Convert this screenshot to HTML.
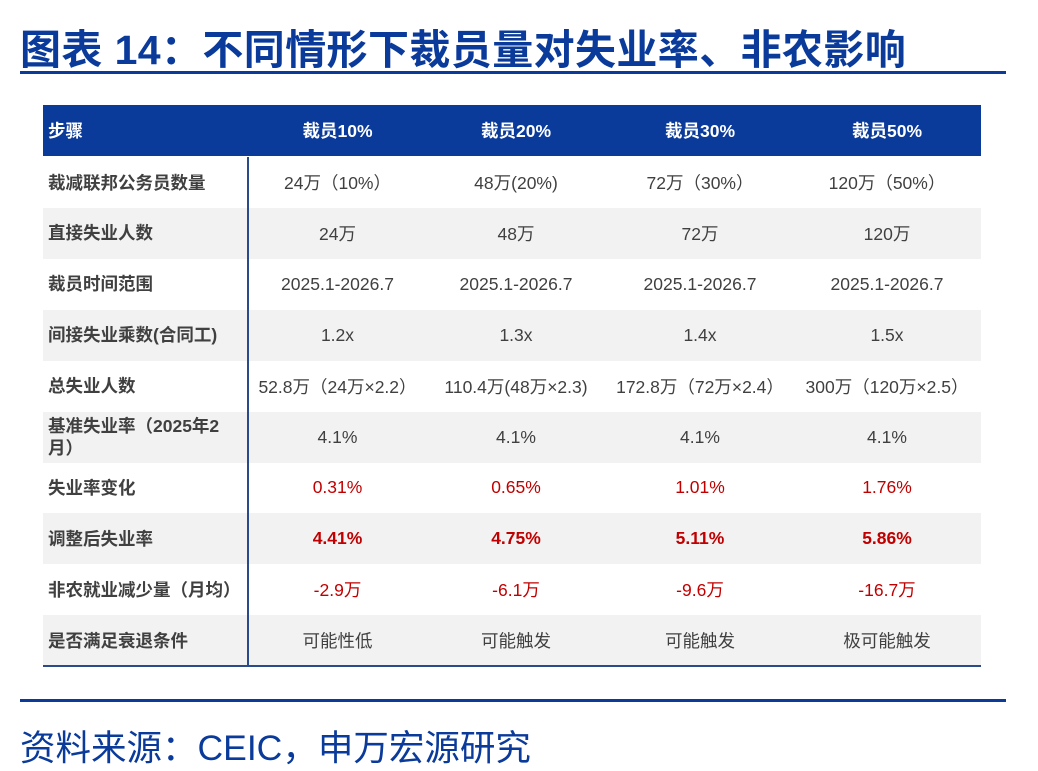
<!DOCTYPE html>
<html><head><meta charset="utf-8">
<style>
body{margin:0;width:1038px;height:771px;background:#fff;position:relative;overflow:hidden;font-family:"Liberation Sans","Noto Sans CJK SC",sans-serif;}
.abs{position:absolute;}
.title{left:20px;top:16px;font-size:41px;font-weight:bold;color:#0a3a9a;white-space:nowrap;letter-spacing:0.4px;}
.rule{left:20px;width:986px;height:3px;background:#0a3a9a;}
.row{position:absolute;left:43px;width:938px;height:51px;}
.cell{position:absolute;top:0;height:100%;display:flex;align-items:center;font-size:17.5px;color:#404040;}
.c0{left:5px;width:185px;font-weight:bold;color:#404040;line-height:22px;}
.cv{justify-content:center;white-space:nowrap;}
.hdr{background:#0a3a9a;}
.hdr .cell{color:#fff;font-weight:bold;}
.g{background:#f2f2f2;}
.red{color:#c00000;}
.b{font-weight:bold;}
.src{left:20px;top:720px;font-size:35.5px;color:#0a3a9a;white-space:nowrap;}
</style></head><body>
<div class="abs title">图表 14：不同情形下裁员量对失业率、非农影响</div>
<div class="abs rule" style="top:71px"></div>
<div id="tbl"></div>
<div class="abs" style="left:247px;top:157px;width:2px;height:509px;background:#2a4a8a"></div>
<div class="abs" style="left:43px;top:665px;width:938px;height:2px;background:#2a4a8a"></div>
<div class="abs rule" style="top:699px;height:3px"></div>
<div class="abs src">资料来源：CEIC，申万宏源研究</div>
<script>
const headers=["步骤","裁员10%","裁员20%","裁员30%","裁员50%"];
const rowLabels=["裁减联邦公务员数量","直接失业人数","裁员时间范围","间接失业乘数(合同工)","总失业人数","基准失业率（2025年2月）","失业率变化","调整后失业率","非农就业减少量（月均）","是否满足衰退条件"];
const rowValues=[
["24万（10%）","48万(20%)","72万（30%）","120万（50%）"],
["24万","48万","72万","120万"],
["2025.1-2026.7","2025.1-2026.7","2025.1-2026.7","2025.1-2026.7"],
["1.2x","1.3x","1.4x","1.5x"],
["52.8万（24万×2.2）","110.4万(48万×2.3)","172.8万（72万×2.4）","300万（120万×2.5）"],
["4.1%","4.1%","4.1%","4.1%"],
["0.31%","0.65%","1.01%","1.76%"],
["4.41%","4.75%","5.11%","5.86%"],
["-2.9万","-6.1万","-9.6万","-16.7万"],
["可能性低","可能触发","可能触发","极可能触发"]];
const rowStyle=["","","","","","","red","red b","red",""];
const colX=[207,383,567,752];const colW=[175,180,180,184];
const tbl=document.getElementById('tbl');
function mkRow(top,cls,label,vals,vcls){
  const r=document.createElement('div');r.className='row '+cls;r.style.top=top+'px';
  
  
  const c=document.createElement('div');c.className='cell c0';c.textContent=label;
  
  
  r.appendChild(c);
  vals.forEach((v,i)=>{const d=document.createElement('div');d.className='cell cv '+vcls;d.style.left=colX[i]+'px';d.style.width=colW[i]+'px';d.textContent=v;
    
    
    r.appendChild(d);});
  tbl.appendChild(r);
}
mkRow(105,'hdr',headers[0],headers.slice(1),'');
rowLabels.forEach((l,i)=>mkRow(157+i*50.9,i%2?'g':'',l,rowValues[i],rowStyle[i]));
</script>
</body></html>
